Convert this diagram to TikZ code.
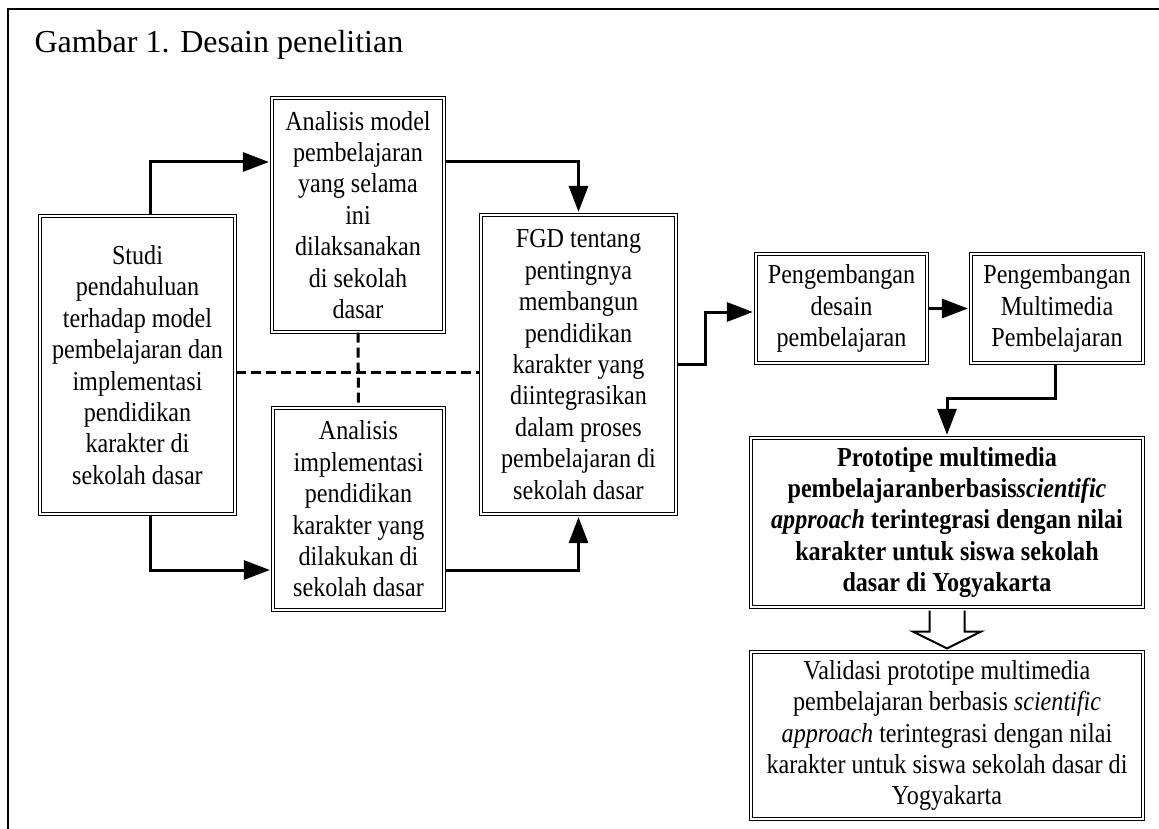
\documentclass[tikz,border=0pt]{standalone}
\usepackage{fontspec}
\setmainfont{Liberation Serif}
\newfontfamily\boxfam[FakeStretch=0.88]{Liberation Serif}
\usetikzlibrary{arrows.meta,calc}
\newcommand{\boxfont}{\boxfam\fontsize{27.4}{31.4}\selectfont}
\tikzset{
  box/.style={draw, double, double distance=2.4pt, line width=1.2pt, inner sep=0pt,
    align=center, font=\boxfont},
  conn/.style={line width=3pt, -{Triangle[length=26pt,width=19pt]}, shorten >=2.5pt},
  dashline/.style={line width=3pt, dash pattern=on 10pt off 5pt},
  hollow/.style={line width=2pt, line join=miter},
  frame/.style={line width=1.5pt}
}
\begin{document}
\begin{tikzpicture}[x=1pt,y=-1pt]
\path[use as bounding box] (0,0) rectangle (1159,829);
\draw[frame] (8,829) -- (8,9) -- (1159,9);
\node[anchor=base west, font=\fontsize{32}{36}\selectfont] (title) at (31,53) {Gambar 1. Desain penelitian};

\node[box, minimum width=195pt, minimum height=298pt] (A) at (137.5,365)
  {Studi\\pendahuluan\\terhadap model\\pembelajaran dan\\implementasi\\pendidikan\\karakter di\\sekolah dasar};
\node[box, minimum width=172pt, minimum height=234pt] (B) at (358,215)
  {Analisis model\\pembelajaran\\yang selama\\ini\\dilaksanakan\\di sekolah\\dasar};
\node[box, minimum width=171pt, minimum height=202pt] (C) at (358.5,509)
  {Analisis\\implementasi\\pendidikan\\karakter yang\\dilakukan di\\sekolah dasar};
\node[box, minimum width=195pt, minimum height=299pt] (D) at (578.5,364.5)
  {FGD tentang\\pentingnya\\membangun\\pendidikan\\karakter yang\\diintegrasikan\\dalam proses\\pembelajaran di\\sekolah dasar};
\node[box, minimum width=171pt, minimum height=109pt] (E) at (841.5,308.5)
  {Pengembangan\\desain\\pembelajaran};
\node[box, minimum width=172pt, minimum height=109pt] (F) at (1057,308.5)
  {Pengembangan\\Multimedia\\Pembelajaran};
\node[box, minimum width=392pt, minimum height=169pt, font=\boxfont\bfseries] (G) at (947,522.5)
  {Prototipe multimedia\\pembelajaranberbasis\textit{scientific}\\\textit{approach} terintegrasi dengan nilai\\karakter untuk siswa sekolah\\dasar di Yogyakarta};
\node[box, minimum width=392pt, minimum height=167pt] (H) at (947,735.5)
  {Validasi prototipe multimedia\\pembelajaran berbasis \textit{scientific}\\\textit{approach} terintegrasi dengan nilai\\karakter untuk siswa sekolah dasar di\\Yogyakarta};

\draw[conn] ([xshift=12.5pt]A.north) |- ([yshift=53pt]B.west);
\draw[conn] ([yshift=53pt]B.east) -| (D.north);
\draw[conn] ([xshift=12.5pt]A.south) |- ([yshift=-61pt]C.west);
\draw[conn] ([yshift=-61pt]C.east) -| (D.south);
\draw[dashline] ([yshift=-7pt]A.east) -- ([yshift=-7pt]A.east -| D.west);
\draw[dashline] (B.south) -- (C.north);
\draw[conn] (D.east) -- ++(29,0) |- ([yshift=-3.5pt]E.west);
\draw[conn] (E.east) -- (F.west);
\draw[conn] ([xshift=-2pt]F.south) -- ++(0,35) -| (G.north);

\draw[hollow] ($(G.south)+(-17.5,3)$) -- ($(G.south)+(-17.5,24)$) -- ($(G.south)+(-34,24)$)
  -- ([yshift=3pt]H.north) -- ($(G.south)+(34,24)$) -- ($(G.south)+(17.5,24)$) -- ($(G.south)+(17.5,3)$);
\end{tikzpicture}
\end{document}
